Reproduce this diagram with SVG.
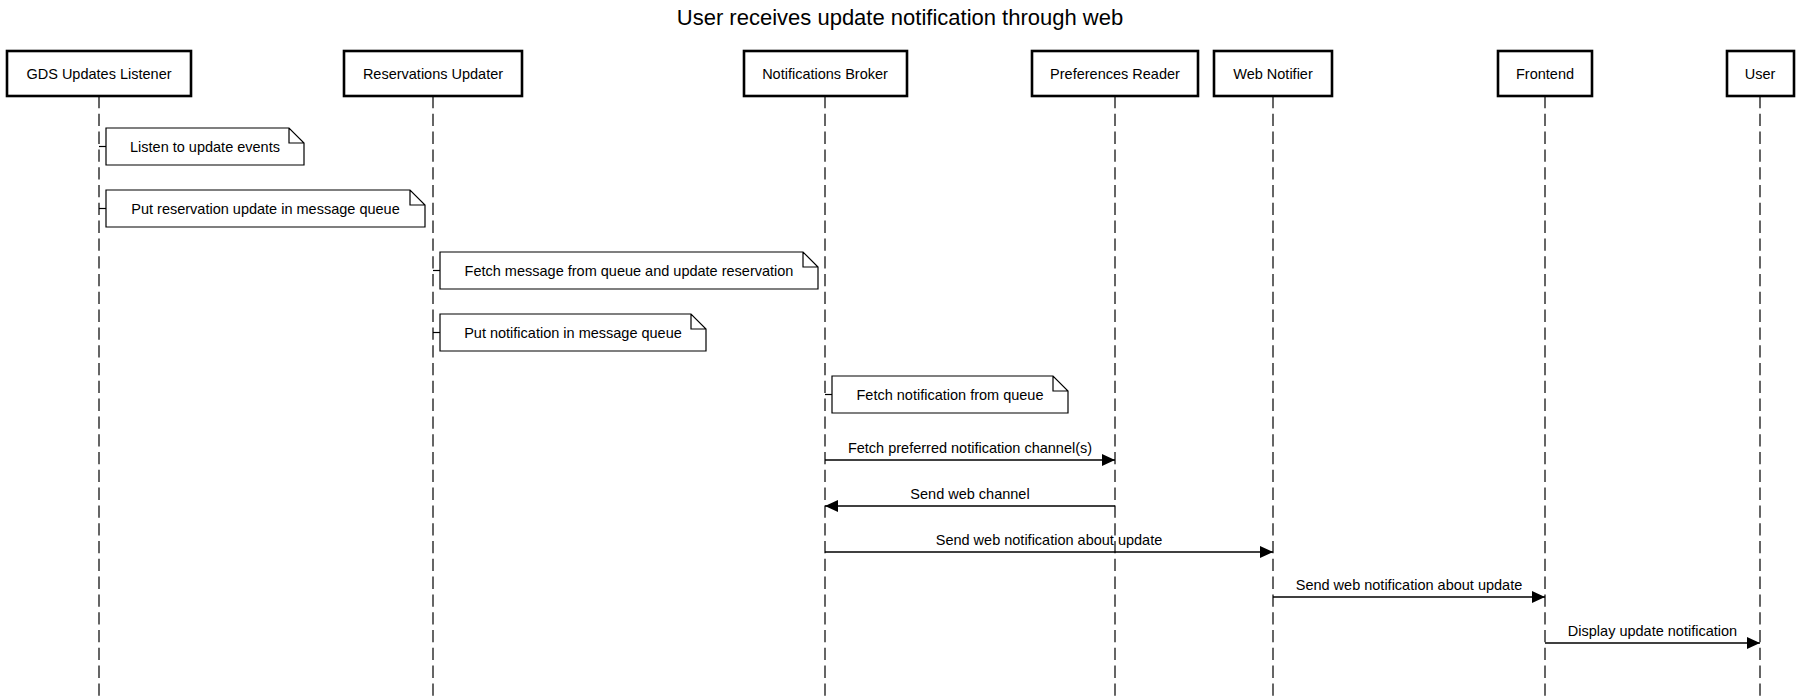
<svg xmlns="http://www.w3.org/2000/svg" width="1800" height="700" viewBox="0 0 1800 700">
<style>
text{font-family:"Liberation Sans",Arial,Helvetica,sans-serif;fill:#000}
.title{font-size:22px;text-anchor:middle}
.lbl{font-size:14.5px;text-anchor:middle}
.actor rect{fill:#fff;stroke:#000;stroke-width:2.6}
.life{stroke:#333;stroke-width:1.5;stroke-dasharray:12.3 5.5;fill:none}
.note path{fill:#fff;stroke:#000;stroke-width:1.2}
.tick{stroke:#000;stroke-width:1.2}
.msg{stroke:#000;stroke-width:1.3;fill:none;marker-end:url(#arr)}
</style>
<defs>
<marker id="arr" viewBox="0 0 13 12" refX="13" refY="6" markerWidth="13" markerHeight="12" markerUnits="userSpaceOnUse" orient="auto">
<path d="M0,0 L13,6 L0,12 Z" fill="#000"/>
</marker>
</defs>
<rect width="1800" height="700" fill="#fff"/>
<text class="title" x="900" y="25">User receives update notification through web</text>

<g id="lifelines">
<line class="life" x1="99" y1="96" x2="99" y2="700"/>
<line class="life" x1="433" y1="96" x2="433" y2="700"/>
<line class="life" x1="825" y1="96" x2="825" y2="700"/>
<line class="life" x1="1115" y1="96" x2="1115" y2="700"/>
<line class="life" x1="1273" y1="96" x2="1273" y2="700"/>
<line class="life" x1="1545" y1="96" x2="1545" y2="700"/>
<line class="life" x1="1760" y1="96" x2="1760" y2="700"/>
</g>

<g id="actor-gds" class="actor"><rect x="7" y="51" width="184" height="45"/><text class="lbl" x="99" y="79">GDS Updates Listener</text></g>
<g id="actor-ru" class="actor"><rect x="344" y="51" width="178" height="45"/><text class="lbl" x="433" y="79">Reservations Updater</text></g>
<g id="actor-nb" class="actor"><rect x="744" y="51" width="163" height="45"/><text class="lbl" x="825" y="79">Notifications Broker</text></g>
<g id="actor-pr" class="actor"><rect x="1032" y="51" width="166" height="45"/><text class="lbl" x="1115" y="79">Preferences Reader</text></g>
<g id="actor-wn" class="actor"><rect x="1214" y="51" width="118" height="45"/><text class="lbl" x="1273" y="79">Web Notifier</text></g>
<g id="actor-fe" class="actor"><rect x="1498" y="51" width="94" height="45"/><text class="lbl" x="1545" y="79">Frontend</text></g>
<g id="actor-user" class="actor"><rect x="1727" y="51" width="67" height="45"/><text class="lbl" x="1760" y="79">User</text></g>

<g id="note1" class="note">
<line class="tick" x1="99" y1="146.5" x2="106" y2="146.5"/>
<path d="M106,128 H289 L304,143 V165 H106 Z M289,128 V143 H304"/>
<text class="lbl" x="205" y="151.5">Listen to update events</text>
</g>
<g id="note2" class="note">
<line class="tick" x1="99" y1="208.5" x2="106" y2="208.5"/>
<path d="M106,190 H410 L425,205 V227 H106 Z M410,190 V205 H425"/>
<text class="lbl" x="265.5" y="213.5">Put reservation update in message queue</text>
</g>
<g id="note3" class="note">
<line class="tick" x1="433" y1="270.5" x2="440" y2="270.5"/>
<path d="M440,252 H803 L818,267 V289 H440 Z M803,252 V267 H818"/>
<text class="lbl" x="629" y="275.5">Fetch message from queue and update reservation</text>
</g>
<g id="note4" class="note">
<line class="tick" x1="433" y1="332.5" x2="440" y2="332.5"/>
<path d="M440,314 H691 L706,329 V351 H440 Z M691,314 V329 H706"/>
<text class="lbl" x="573" y="337.5">Put notification in message queue</text>
</g>
<g id="note5" class="note">
<line class="tick" x1="825" y1="394.5" x2="832" y2="394.5"/>
<path d="M832,376 H1053 L1068,391 V413 H832 Z M1053,376 V391 H1068"/>
<text class="lbl" x="950" y="399.5">Fetch notification from queue</text>
</g>

<g id="connectors">
<line class="msg" x1="825" y1="460" x2="1115" y2="460"/>
<text class="lbl" x="970" y="453">Fetch preferred notification channel(s)</text>
<line class="msg" x1="1115" y1="506" x2="825" y2="506"/>
<text class="lbl" x="970" y="499">Send web channel</text>
<line class="msg" x1="825" y1="552" x2="1273" y2="552"/>
<text class="lbl" x="1049" y="545">Send web notification about update</text>
<line class="msg" x1="1273" y1="597" x2="1545" y2="597"/>
<text class="lbl" x="1409" y="590">Send web notification about update</text>
<line class="msg" x1="1545" y1="643" x2="1760" y2="643"/>
<text class="lbl" x="1652.5" y="636">Display update notification</text>
</g>
</svg>
